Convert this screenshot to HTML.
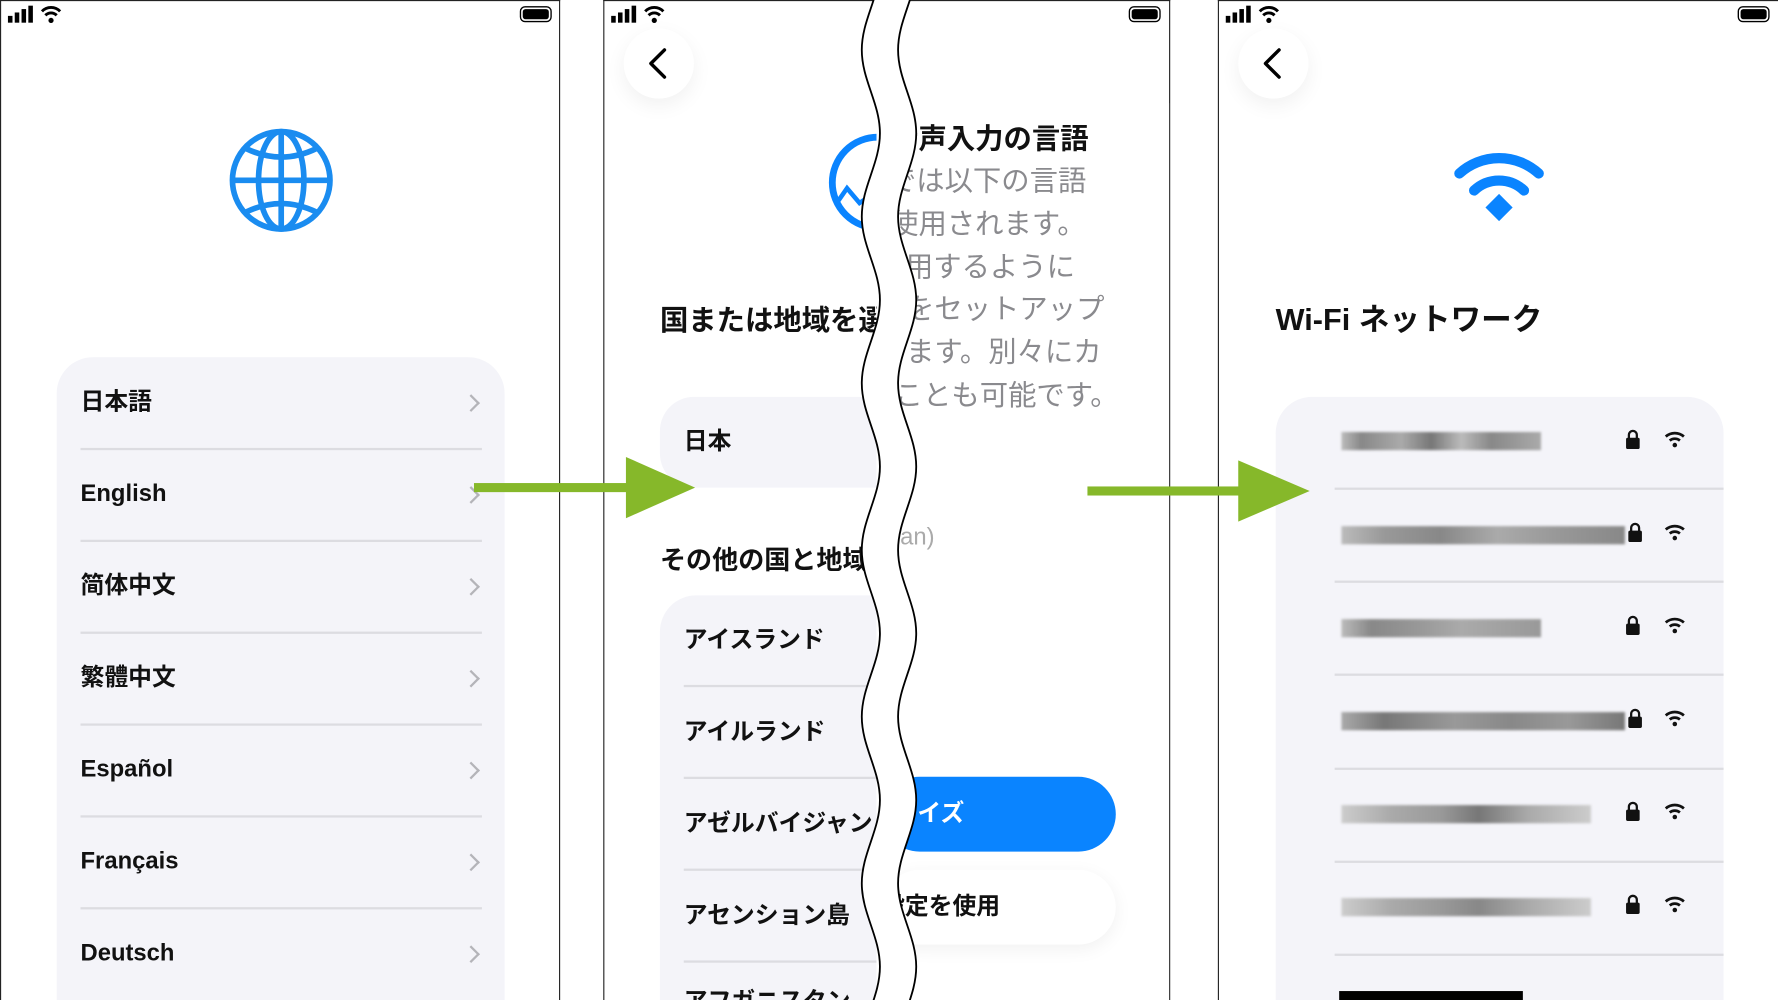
<!DOCTYPE html>
<html><head><meta charset="utf-8"><style>
html,body{margin:0;padding:0;background:#fff;overflow:hidden}
#w{position:relative;width:1568px;height:882px;transform:scale(1.133929);transform-origin:0 0;font-family:"Liberation Sans","Noto Sans CJK JP",sans-serif;overflow:hidden}
.a{position:absolute}
.panel{position:absolute;top:0;height:882px;border:1.5px solid #222;border-bottom:none;background:#fff;box-sizing:border-box;overflow:hidden}
.card{position:absolute;background:#f4f4f9;border-radius:32px}
.t{position:absolute;font-size:21px;font-weight:bold;color:#111;white-space:nowrap;line-height:1}
.sep{position:absolute;height:1.5px;background:#dcdce1}
.chev{position:absolute;width:9px;height:9px;border-right:2.2px solid #b4b4b9;border-top:2.2px solid #b4b4b9;transform:rotate(45deg)}
.back{position:absolute;width:62px;height:62px;border-radius:50%;background:#fff;box-shadow:0 6px 18px rgba(0,0,0,0.06)}
.g{position:absolute;font-size:25px;color:#8a8a8e;white-space:nowrap;line-height:1}
.blur{position:absolute;height:16px;filter:blur(1.2px)}
</style></head><body><div id="w">

<!-- Panel 1 -->
<div class="panel" style="left:0;width:494px">
  <svg class="a" style="left:0;top:0" width="494" height="30">
    <rect x="6" y="13" width="4" height="6" fill="#000"/><rect x="12" y="10" width="4" height="9" fill="#000"/><rect x="18" y="7" width="4" height="12" fill="#000"/><rect x="24" y="4" width="4" height="15" fill="#000"/>
    <path d="M36 9 A11 11 0 0 1 52 9" stroke="#000" stroke-width="2.6" fill="none"/><path d="M39 12.5 A7 7 0 0 1 49 12.5" stroke="#000" stroke-width="2.6" fill="none"/><circle cx="44" cy="17" r="2.3" fill="#000"/>
    <rect x="458" y="5" width="27" height="13" rx="4" fill="none" stroke="#000" stroke-width="1.2"/><rect x="460" y="7" width="23" height="9" rx="2.5" fill="#000"/>
  </svg>
  <svg class="a" style="left:200px;top:111px" width="94" height="94">
    <g stroke="#1a8cf0" stroke-width="5" fill="none">
      <circle cx="47" cy="47" r="43"/>
      <ellipse cx="47" cy="47" rx="20" ry="43"/>
      <line x1="47" y1="4" x2="47" y2="90"/>
      <line x1="4" y1="47" x2="90" y2="47"/>
      <path d="M16 19 Q47 34 78 19"/><path d="M16 75 Q47 60 78 75"/>
    </g>
  </svg>
  <div class="card" style="left:49px;top:314px;width:395px;height:600px"></div>
  <div class="t" style="left:70px;top:343px">日本語</div>
  <div class="t" style="left:70px;top:424px">English</div>
  <div class="t" style="left:70px;top:505px">简体中文</div>
  <div class="t" style="left:70px;top:586px">繁體中文</div>
  <div class="t" style="left:70px;top:667px">Español</div>
  <div class="t" style="left:70px;top:748px">Français</div>
  <div class="t" style="left:70px;top:829px">Deutsch</div>
  <div class="sep" style="left:70px;top:394px;width:354px"></div>
  <div class="sep" style="left:70px;top:475px;width:354px"></div>
  <div class="sep" style="left:70px;top:556px;width:354px"></div>
  <div class="sep" style="left:70px;top:637px;width:354px"></div>
  <div class="sep" style="left:70px;top:718px;width:354px"></div>
  <div class="sep" style="left:70px;top:799px;width:354px"></div>
  <div class="chev" style="left:409px;top:349px"></div>
  <div class="chev" style="left:409px;top:430px"></div>
  <div class="chev" style="left:409px;top:511px"></div>
  <div class="chev" style="left:409px;top:592px"></div>
  <div class="chev" style="left:409px;top:673px"></div>
  <div class="chev" style="left:409px;top:754px"></div>
  <div class="chev" style="left:409px;top:835px"></div>
</div>

<!-- Panel 2 -->
<div class="panel" style="left:532px;width:500px">
  <svg class="a" style="left:0;top:0" width="500" height="30">
    <rect x="6" y="13" width="4" height="6" fill="#000"/><rect x="12" y="10" width="4" height="9" fill="#000"/><rect x="18" y="7" width="4" height="12" fill="#000"/><rect x="24" y="4" width="4" height="15" fill="#000"/>
    <path d="M36 9 A11 11 0 0 1 52 9" stroke="#000" stroke-width="2.6" fill="none"/><path d="M39 12.5 A7 7 0 0 1 49 12.5" stroke="#000" stroke-width="2.6" fill="none"/><circle cx="44" cy="17" r="2.3" fill="#000"/>
    <rect x="463" y="5" width="27" height="13" rx="4" fill="none" stroke="#000" stroke-width="1.2"/><rect x="465" y="7" width="23" height="9" rx="2.5" fill="#000"/>
  </svg>
  <div class="back" style="left:17px;top:24px"></div>
  <svg class="a" style="left:0;top:0" width="500" height="250">
    <path d="M53 43 L41 55 L53 67" stroke="#000" stroke-width="3" fill="none" stroke-linecap="round" stroke-linejoin="round"/>
    <circle cx="241" cy="160" r="40" stroke="#0a84ff" stroke-width="6" fill="none"/>
    <path d="M205 178 L214 165 L225 178 L240 168" stroke="#0a84ff" stroke-width="4" fill="none"/>
  </svg>
  <div class="t" style="left:49px;top:270px;font-size:25px">国または地域を選択</div>
  <div class="card" style="left:49px;top:349px;width:420px;height:80px;border-radius:30px"></div>
  <div class="t" style="left:70px;top:378px">日本</div>
  <div class="t" style="left:49px;top:482px;font-size:23px">その他の国と地域</div>
  <div class="card" style="left:49px;top:524px;width:420px;height:420px"></div>
  <div class="t" style="left:70px;top:553px">アイスランド</div>
  <div class="t" style="left:70px;top:634px">アイルランド</div>
  <div class="t" style="left:70px;top:715px">アゼルバイジャン</div>
  <div class="t" style="left:70px;top:796px">アセンション島</div>
  <div class="t" style="left:70px;top:872px">アフガニスタン</div>
  <div class="sep" style="left:70px;top:603px;width:400px"></div>
  <div class="sep" style="left:70px;top:684px;width:400px"></div>
  <div class="sep" style="left:70px;top:765px;width:400px"></div>
  <div class="sep" style="left:70px;top:846px;width:400px"></div>
  <!-- right part (clipped) -->
  <div style="position:absolute;left:240px;top:90px;width:260px;height:792px;background:#fff;overflow:hidden">
    <div style="position:absolute;left:-240px;top:-90px;width:500px;height:882px">
      <div class="t" style="left:252px;top:110px;font-size:25px">音声入力の言語</div>
      <div class="g" style="left:250px;top:147px">では以下の言語</div>
      <div class="g" style="left:252px;top:185px">使用されます。</div>
      <div class="g" style="left:240px;top:223px">使用するように</div>
      <div class="g" style="left:266px;top:260px">をセットアップ</div>
      <div class="g" style="left:266px;top:298px">ます。別々にカ</div>
      <div class="g" style="left:256px;top:336px">ことも可能です。</div>
      <div class="g" style="left:220px;top:462px;font-size:21px;color:#aaa">(Japan)</div>
      <div style="position:absolute;left:245px;top:684px;width:206px;height:66px;border-radius:33px;background:#0a84ff"></div>
      <div class="t" style="left:192px;top:706px;color:#fff">カスタマイズ</div>
      <div style="position:absolute;left:245px;top:766px;width:206px;height:66px;border-radius:33px;background:#fff;box-shadow:0 4px 16px rgba(0,0,0,0.06)"></div>
      <div class="t" style="left:244px;top:788px">設定を使用</div>
    </div>
  </div>
</div>

<!-- Panel 3 -->
<div class="panel" style="left:1074px;width:494px;border-right:none">
  <svg class="a" style="left:0;top:0" width="494" height="30">
    <rect x="6" y="13" width="4" height="6" fill="#000"/><rect x="12" y="10" width="4" height="9" fill="#000"/><rect x="18" y="7" width="4" height="12" fill="#000"/><rect x="24" y="4" width="4" height="15" fill="#000"/>
    <path d="M36 9 A11 11 0 0 1 52 9" stroke="#000" stroke-width="2.6" fill="none"/><path d="M39 12.5 A7 7 0 0 1 49 12.5" stroke="#000" stroke-width="2.6" fill="none"/><circle cx="44" cy="17" r="2.3" fill="#000"/>
    <rect x="458" y="5" width="27" height="13" rx="4" fill="none" stroke="#000" stroke-width="1.2"/><rect x="460" y="7" width="23" height="9" rx="2.5" fill="#000"/>
  </svg>
  <div class="back" style="left:17px;top:24px"></div>
  <svg class="a" style="left:0;top:0" width="494" height="230">
    <path d="M53 43 L41 55 L53 67" stroke="#000" stroke-width="3" fill="none" stroke-linecap="round" stroke-linejoin="round"/>
    <g stroke="#0a84ff" stroke-width="9" fill="none" stroke-linecap="round">
      <path d="M212 152 A52 52 0 0 1 282 152"/>
      <path d="M225 167 A32 32 0 0 1 269 167"/>
    </g>
    <path d="M235 182 L247 170 L259 182 L247 194 Z" fill="#0a84ff"/>
  </svg>
  <div class="t" style="left:50px;top:268px;font-size:27px">Wi-Fi ネットワーク</div>
  <div class="card" style="left:50px;top:349px;width:395px;height:600px"></div>
  <div class="sep" style="left:102px;top:429px;width:343px"></div>
  <div class="sep" style="left:102px;top:511px;width:343px"></div>
  <div class="sep" style="left:102px;top:593px;width:343px"></div>
  <div class="sep" style="left:102px;top:676px;width:343px"></div>
  <div class="sep" style="left:102px;top:758px;width:343px"></div>
  <div class="sep" style="left:102px;top:840px;width:343px"></div>
  <div class="blur" style="left:108px;top:380px;width:176px;background:linear-gradient(90deg,#bbb,#888 10%,#aaa 30%,#777 45%,#bbb 60%,#888 75%,#aaa)"></div>
  <div class="blur" style="left:108px;top:463px;width:250px;background:linear-gradient(90deg,#bbb,#999 15%,#888 35%,#aaa 55%,#999 75%,#888)"></div>
  <div class="blur" style="left:108px;top:545px;width:176px;background:linear-gradient(90deg,#bbb,#888 15%,#999 40%,#aaa 60%,#999)"></div>
  <div class="blur" style="left:108px;top:627px;width:250px;background:linear-gradient(90deg,#aaa,#777 15%,#999 40%,#888 60%,#999 80%,#777)"></div>
  <div class="blur" style="left:108px;top:709px;width:220px;background:linear-gradient(90deg,#ccc,#aaa 20%,#999 40%,#777 55%,#aaa 75%,#ccc)"></div>
  <div class="blur" style="left:108px;top:791px;width:220px;background:linear-gradient(90deg,#ccc,#aaa 20%,#999 40%,#888 55%,#aaa 75%,#ccc)"></div>
  <svg class="a" style="left:350px;top:370px" width="90" height="440">
    <defs>
      <g id="lk"><rect x="9" y="9" width="12" height="10" rx="1.5" fill="#111"/><path d="M11.5 10 V6.5 A3.5 3.5 0 0 1 18.5 6.5 V10" stroke="#111" stroke-width="2" fill="none"/></g>
      <g id="wf"><path d="M44 8 A12 12 0 0 1 60 8" stroke="#111" stroke-width="2.4" fill="none"/><path d="M47.5 11.5 A7 7 0 0 1 56.5 11.5" stroke="#111" stroke-width="2.4" fill="none"/><circle cx="52" cy="15.5" r="2" fill="#111"/></g>
    </defs>
    <use href="#lk" x="0" y="6"/><use href="#wf" x="0" y="6"/>
    <use href="#lk" x="2" y="88"/><use href="#wf" x="0" y="88"/>
    <use href="#lk" x="0" y="170"/><use href="#wf" x="0" y="170"/>
    <use href="#lk" x="2" y="252"/><use href="#wf" x="0" y="252"/>
    <use href="#lk" x="0" y="334"/><use href="#wf" x="0" y="334"/>
    <use href="#lk" x="0" y="416"/><use href="#wf" x="0" y="416"/>
  </svg>
  <div class="a" style="left:106px;top:873px;width:162px;height:12px;background:#000"></div>
</div>

<!-- tear -->
<svg class="a" style="left:0;top:0" width="1568" height="882">
  <path fill="#fff" d="M776 -29.5 C776 -3 760 17.5 760 44 C760 70.5 776 91 776 117.5 C776 144 760 164.5 760 191 C760 217.5 776 238 776 264.5 C776 291 760 311.5 760 338 C760 364.5 776 385 776 411.5 C776 438 760 458.5 760 485 C760 511.5 776 532 776 558.5 C776 585 760 605.5 760 632 C760 658.5 776 679 776 705.5 C776 732 760 752.5 760 779 C760 805.5 776 826 776 852.5 C776 879 760 899.5 760 926 L792 926 C792 899.5 808 879 808 852.5 C808 826 792 805.5 792 779 C792 752.5 808 732 808 705.5 C808 679 792 658.5 792 632 C792 605.5 808 585 808 558.5 C808 532 792 511.5 792 485 C792 458.5 808 438 808 411.5 C808 385 792 364.5 792 338 C792 311.5 808 291 808 264.5 C808 238 792 217.5 792 191 C792 164.5 808 144 808 117.5 C808 91 792 70.5 792 44 C792 17.5 808 -3 808 -29.5 Z"/>
  <g fill="none" stroke="#000" stroke-width="1.6">
    <path d="M776 -29.5 C776 -3 760 17.5 760 44 C760 70.5 776 91 776 117.5 C776 144 760 164.5 760 191 C760 217.5 776 238 776 264.5 C776 291 760 311.5 760 338 C760 364.5 776 385 776 411.5 C776 438 760 458.5 760 485 C760 511.5 776 532 776 558.5 C776 585 760 605.5 760 632 C760 658.5 776 679 776 705.5 C776 732 760 752.5 760 779 C760 805.5 776 826 776 852.5 C776 879 760 899.5 760 926"/>
    <path d="M808 -29.5 C808 -3 792 17.5 792 44 C792 70.5 808 91 808 117.5 C808 144 792 164.5 792 191 C792 217.5 808 238 808 264.5 C808 291 792 311.5 792 338 C792 364.5 808 385 808 411.5 C808 438 792 458.5 792 485 C792 511.5 808 532 808 558.5 C808 585 792 605.5 792 632 C792 658.5 808 679 808 705.5 C808 732 792 752.5 792 779 C792 805.5 808 826 808 852.5 C808 879 792 899.5 792 926"/>
  </g>
  <!-- arrows -->
  <rect x="418" y="426" width="136" height="8" fill="#86b82a"/>
  <path d="M552 403 L613 430 L552 457 Z" fill="#86b82a"/>
  <rect x="959" y="429" width="135" height="8" fill="#86b82a"/>
  <path d="M1092 406 L1155 433 L1092 460 Z" fill="#86b82a"/>
</svg>
</div></body></html>
